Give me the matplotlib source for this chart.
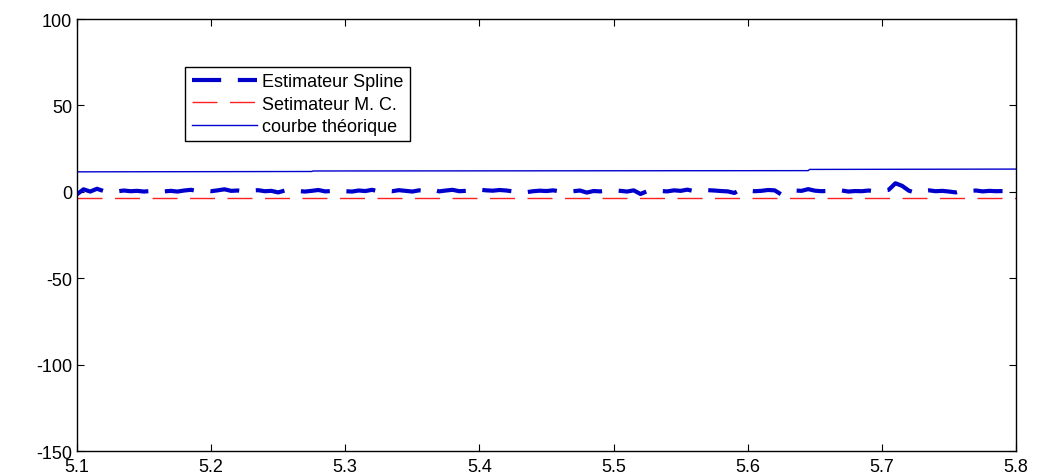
import numpy as np
import matplotlib
matplotlib.use("Agg")
import matplotlib.pyplot as plt

plt.rcParams.update({
    'font.family': ['Liberation Sans', 'DejaVu Sans'],
    'font.size': 13,
    'xtick.direction': 'in', 'ytick.direction': 'in',
    'axes.linewidth': 1.0,
    'axes.unicode_minus': False,
})

# ── data ──────────────────────────────────────────────
x_theo = [5.1, 5.275, 5.276, 5.645, 5.646, 5.8]
y_theo = [11.6, 11.8, 12.1, 12.3, 13.0, 13.2]

x_mc = [5.1, 5.8]
y_mc = [-3.6, -3.6]

x_spline = np.linspace(5.1, 5.8, 141)
y_spline = [
    -1.5, 1.5, 0.2, 1.8, 0.5, 1.2, 0.3, 0.8, 0.4, 0.6,
    0.2, 0.5, 0.9, 0.3, 0.6, 0.2, 0.8, 1.2, 0.5, 0.7,
    0.4, 0.9, 1.5, 0.6, 0.8, 0.3, 0.7, 1.0, 0.4, 0.6,
    -0.3, 0.8, 1.3, 0.5, 0.2, 0.6, 1.1, 0.3, 0.5, 0.9,
    0.4, 0.2, 0.8, 0.5, 1.2, 0.3, 0.7, 0.4, 1.0, 0.6,
    0.2, 0.9, 0.5, 1.4, 0.3, 0.8, 1.2, 0.4, 0.6, 0.5,
    1.3, 0.9, 0.7, 1.1, 0.8, 0.3, 0.5, -0.2, 0.4, 0.7,
    0.5, 0.9, 0.3, 0.6, 0.4, 0.8, -0.4, 0.5, 0.3, 0.7,
    1.0, 0.6, 0.2, 0.9, -1.2, 0.4, 0.8, 0.5, 0.3, 0.9,
    0.6, 1.3, 0.4, 0.7, 1.0, 0.8, 0.5, 0.3, -0.6, 1.5,
    0.8, 0.4, 0.6, 1.1, 0.9, -1.5, 0.3, 0.8, 0.6, 1.6,
    0.7, 0.4, 0.6, 1.0, 0.8, 0.2, 0.5, 0.4, 0.8, 0.3,
    0.6, 1.2, 5.0, 3.5, 0.7, -0.5, 0.5, 0.9, 0.4, 0.6,
    0.2, -0.3, 0.7, 0.5, 0.8, 0.3, 0.6, 0.4, 0.5, 0.7,
    0.5,
]

fig = plt.figure(figsize=(10.38, 4.77), dpi=100)
ax = fig.add_axes([0.074, 0.052, 0.905, 0.906])

ax.plot(x_spline, y_spline, color='#0000CC', lw=3.0, ls=(0, (7, 4)),
        label='Estimateur Spline')
ax.plot(x_mc, y_mc, color='#FF2020', lw=1.0, ls=(0, (18, 9)),
        label='Setimateur M. C.')
ax.plot(x_theo, y_theo, color='#0000CC', lw=1.0, label='courbe théorique')

ax.set_xlim(5.1, 5.8)
ax.set_ylim(-150, 100)
ax.set_xticks([5.1, 5.2, 5.3, 5.4, 5.5, 5.6, 5.7, 5.8])
ax.set_yticks([-150, -100, -50, 0, 50, 100])
ax.tick_params(top=True, right=True, length=5, labelsize=13)
ax.tick_params(axis='x', pad=5)

leg = ax.legend(loc='upper left', bbox_to_anchor=(0.106, 0.91),
                fancybox=False, edgecolor='black', framealpha=1,
                handlelength=3.6, handletextpad=0.3, borderpad=0.35,
                labelspacing=0.3, fontsize=13)
leg.get_frame().set_linewidth(1.0)

fig.savefig('out.png', dpi=100)
